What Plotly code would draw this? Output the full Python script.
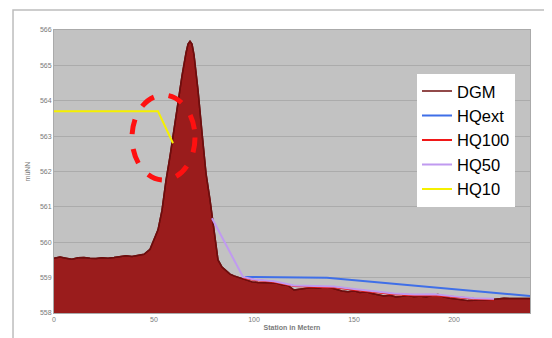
import plotly.graph_objects as go

# ---- data ----
dgm_x = [0, 3, 6, 9, 12, 15, 18, 21, 24, 27, 30, 33, 36, 39, 42, 45, 48, 50, 52, 54, 56, 58, 60, 62, 64,
         66, 67, 68, 69, 70, 72, 74, 76, 78, 80, 82, 84, 86, 88, 90, 93, 96, 99, 102, 105, 108, 111, 114,
         117, 120, 123, 126, 129, 132, 135, 138, 141, 144, 147, 150, 153, 156, 159, 162, 165, 168, 171,
         174, 177, 180, 183, 186, 189, 192, 195, 198, 201, 204, 207, 210, 213, 216, 219, 222, 225, 228,
         231, 234, 238]
dgm_y = [559.55, 559.58, 559.55, 559.52, 559.56, 559.57, 559.55, 559.54, 559.56, 559.55, 559.57, 559.6,
         559.62, 559.6, 559.63, 559.66, 559.8, 560.05, 560.35, 560.9, 561.75, 562.43, 563.2, 564.0, 564.7,
         565.35, 565.6, 565.68, 565.6, 565.3, 564.3, 563.1, 561.95, 561.2, 560.4, 559.5, 559.3, 559.2,
         559.1, 559.05, 559.0, 558.95, 558.88, 558.86, 558.85, 558.84, 558.85, 558.8, 558.78, 558.65,
         558.68, 558.7, 558.72, 558.7, 558.74, 558.72, 558.66, 558.62, 558.6, 558.63, 558.58, 558.6,
         558.55, 558.52, 558.48, 558.5, 558.45, 558.47, 558.5, 558.46, 558.48, 558.45, 558.5, 558.52,
         558.45, 558.42, 558.4, 558.38, 558.35, 558.36, 558.38, 558.36, 558.38, 558.42, 558.42, 558.41,
         558.42, 558.41, 558.41]

hqext_x = [95.5, 136.5, 238]
hqext_y = [559.02, 559.0, 558.48]

hq100_x = [94.5, 100, 110, 120, 130, 140, 150, 160, 170, 180, 190, 200, 210, 220]
hq100_y = [559.0, 558.93, 558.88, 558.76, 558.74, 558.73, 558.66, 558.6, 558.53, 558.5, 558.51, 558.45, 558.4, 558.38]

hq50_x = [79, 94.5, 100, 110, 120, 130, 140, 150, 160, 170, 180, 190, 200, 210, 220]
hq50_y = [560.68, 559.02, 558.95, 558.9, 558.78, 558.76, 558.75, 558.68, 558.62, 558.55, 558.52, 558.53, 558.47, 558.42, 558.4]

hq10_x = [0, 52, 59.5]
hq10_y = [563.7, 563.7, 562.8]

x_ticks = [0, 50, 100, 150, 200]
y_ticks = [558, 559, 560, 561, 562, 563, 564, 565, 566]

# highlight ellipse (annotation, data coords)
ellipse = dict(x0=39, x1=70.5, y0=561.76, y1=564.16)

fig = go.Figure()
# DGM terrain fill (no legend entry) + outline carrying the legend line
fig.add_trace(go.Scatter(x=dgm_x, y=dgm_y, name="DGM", mode="lines", fill="tozeroy",
                         fillcolor="#9A1C1C", line=dict(color="#6E0E0E", width=1.5),
                         showlegend=False))
fig.add_trace(go.Scatter(x=dgm_x, y=dgm_y, name="DGM", mode="lines",
                         line=dict(color="#6E0E0E", width=1.5)))
fig.add_trace(go.Scatter(x=hqext_x, y=hqext_y, name="HQext", mode="lines",
                         line=dict(color="#3F6FE8", width=2)))
fig.add_trace(go.Scatter(x=hq100_x, y=hq100_y, name="HQ100", mode="lines",
                         line=dict(color="#F01818", width=2)))
fig.add_trace(go.Scatter(x=hq50_x, y=hq50_y, name="HQ50", mode="lines",
                         line=dict(color="#C09AF0", width=2)))
fig.add_trace(go.Scatter(x=hq10_x, y=hq10_y, name="HQ10", mode="lines",
                         line=dict(color="#F5F000", width=2)))

# outer chart frame
fig.add_shape(type="rect", xref="paper", yref="paper", x0=-0.0861, x1=1.0378, y0=-0.2, y1=1.0707,
              line=dict(color="#BDBDBD", width=1.5), fillcolor="rgba(0,0,0,0)", layer="below")
# dashed red ellipse
fig.add_shape(type="circle", xref="x", yref="y", **ellipse,
              line=dict(color="#FF1010", width=5, dash="dash"))

axis_font = dict(family="Liberation Sans, Arial", size=7, color="#7A7A7A")
fig.update_layout(
    width=544, height=330,
    margin=dict(l=46, r=22, t=22, b=25, autoexpand=False),
    paper_bgcolor="white", plot_bgcolor="#C2C2C2",
    showlegend=True,
    legend=dict(x=0.7626, y=0.845, xanchor="left", yanchor="top", bgcolor="white",
                font=dict(family="Liberation Sans, Arial", size=16.5, color="black"),
                itemwidth=30, tracegroupgap=0),
    xaxis=dict(range=[0, 238], tickvals=x_ticks, showgrid=False, zeroline=False, automargin=False,
               tickfont=axis_font, ticks="", showline=True, linecolor="#AAAAAA", mirror=True,
               title=dict(text="<b>Station in Metern</b>", font=dict(family="Liberation Sans, Arial", size=7, color="#7A7A7A"), standoff=2)),
    yaxis=dict(range=[558, 566], tickvals=y_ticks, showgrid=True, gridcolor="#ABABAB", gridwidth=1,
               zeroline=False, tickfont=axis_font, ticks="", showline=True, linecolor="#AAAAAA", mirror=True,
               automargin=False,
               title=dict(text="müNN", font=dict(family="Liberation Sans, Arial", size=7, color="#7A7A7A"), standoff=8)),
)

fig.write_html("out.html")
